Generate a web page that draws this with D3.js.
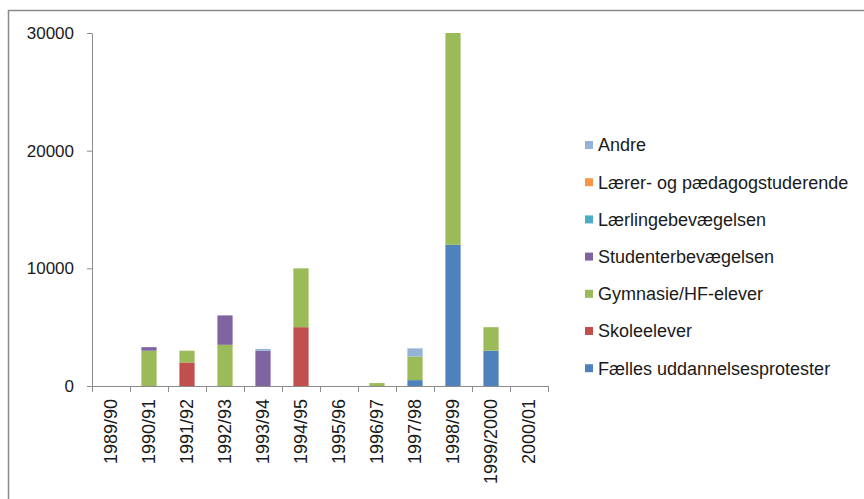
<!DOCTYPE html>
<html>
<head>
<meta charset="utf-8">
<script src="https://cdnjs.cloudflare.com/ajax/libs/d3/7.8.5/d3.min.js"></script>
<style>
  html, body { margin: 0; padding: 0; background: #fff; }
  svg { display: block; font-family: "Liberation Sans", Arial, sans-serif; }
  .axis path, .axis line { stroke: #8c8c8c; }
  .axis text { fill: #1a1a1a; font-size: 17px; }
  .axis text.cat { font-size: 18px; }
  .legend text { fill: #1a1a1a; font-size: 18px; }
</style>
</head>
<body>
<div class="chart"></div>
<script>
// School years
const categories = ["1989/90", "1990/91", "1991/92", "1992/93", "1993/94", "1994/95",
  "1995/96", "1996/97", "1997/98", "1998/99", "1999/2000", "2000/01"];

// Series, bottom of the stack first
const seriesNames = ["Fælles uddannelsesprotester", "Skoleelever", "Gymnasie/HF-elever",
  "Studenterbevægelsen", "Lærlingebevægelsen", "Lærer- og pædagogstuderende", "Andre"];

const faelles   = [0, 0, 0, 0, 0, 0, 0, 0, 500, 12000, 3000, 0];
const skole     = [0, 0, 2000, 0, 0, 5000, 0, 0, 0, 0, 0, 0];
const gymnasie  = [0, 3000, 1000, 3500, 0, 5000, 0, 250, 2000, 18000, 2000, 0];
const studenter = [0, 300, 0, 2500, 3000, 0, 0, 0, 0, 0, 0, 0];
const laerlinge = [0, 0, 0, 0, 0, 0, 0, 0, 0, 0, 0, 0];
const laerer    = [0, 0, 0, 0, 0, 0, 0, 0, 0, 0, 0, 0];
const andre     = [0, 0, 0, 0, 150, 0, 0, 0, 700, 0, 0, 0];

const yTicks = [0, 10000, 20000, 30000];

const seriesColors = ["#4f81bd", "#c0504d", "#9bbb59", "#8064a2", "#4bacc6", "#f79646", "#95b3d7"];

/**
 * Stacked bar chart
 */
class StackedChart
{
  constructor()
  {
    // Size of svg element
    this._width = 864;
    this._height = 499;

    // Plot area
    this._left = 92;
    this._right = 548;
    this._top = 33;
    this._bottom = 386;

    this._svg = null;
  }

  /**
   * Build table for d3.stack from the named arrays
   */
  _table()
  {
    const cols = [faelles, skole, gymnasie, studenter, laerlinge, laerer, andre];
    return categories.map((c, i) => {
      let row = { year: c };
      seriesNames.forEach((s, j) => { row[s] = cols[j][i]; });
      return row;
    });
  }

  render()
  {
    this._svg = d3.select(".chart")
      .append("svg")
      .attr("width", this._width)
      .attr("height", this._height);

    // Outer frame
    this._svg.append("rect")
      .attr("x", 8.5).attr("y", 10.5)
      .attr("width", 900).attr("height", 600)
      .attr("fill", "none")
      .attr("stroke", "#8a8a8a")
      .attr("stroke-width", 1.5);

    const x = d3.scaleBand()
      .domain(categories)
      .range([this._left, this._right])
      .paddingInner(0.6)
      .paddingOuter(0.3);

    const y = d3.scaleLinear()
      .domain([0, 30000])
      .range([this._bottom, this._top]);

    const stacked = d3.stack().keys(seriesNames)(this._table());

    // Bars
    this._svg.append("g")
      .selectAll("g")
      .data(stacked)
      .enter()
      .append("g")
      .attr("fill", (d, i) => seriesColors[i])
      .selectAll("rect")
      .data(d => d.filter(p => p[1] - p[0] > 0))
      .enter()
      .append("rect")
      .attr("x", d => x(d.data.year))
      .attr("width", x.bandwidth())
      .attr("y", d => y(d[1]))
      .attr("height", d => y(d[0]) - y(d[1]));

    // Y axis
    this._svg.append("g")
      .attr("class", "axis")
      .attr("transform", `translate(${this._left},0)`)
      .call(d3.axisLeft(y).tickValues(yTicks).tickFormat(d3.format("d")).tickSize(5).tickPadding(13).tickSizeOuter(0));

    // X axis, ticks between categories
    const step = x.step();
    const xg = this._svg.append("g")
      .attr("class", "axis")
      .attr("transform", `translate(0,${this._bottom})`);

    xg.append("path")
      .attr("d", `M${this._left},0.5H${this._right}`)
      .attr("fill", "none");

    xg.selectAll("line")
      .data(d3.range(categories.length + 1))
      .enter()
      .append("line")
      .attr("x1", i => Math.round(this._left + i * step) + 0.5)
      .attr("x2", i => Math.round(this._left + i * step) + 0.5)
      .attr("y1", 0)
      .attr("y2", 6);

    xg.selectAll("text")
      .data(categories)
      .enter()
      .append("text")
      .attr("class", "cat")
      .attr("transform", d => `translate(${x(d) + x.bandwidth() / 2},13) rotate(-90)`)
      .attr("text-anchor", "end")
      .attr("dy", "0.35em")
      .text(d => d);

    // Legend, top entry is last series
    const legend = this._svg.append("g")
      .attr("class", "legend")
      .selectAll("g")
      .data(seriesNames.slice().reverse())
      .enter()
      .append("g")
      .attr("transform", (d, i) => `translate(585,${145 + i * 37.2})`);

    legend.append("rect")
      .attr("x", 0).attr("y", -4)
      .attr("width", 8).attr("height", 8)
      .attr("fill", (d, i) => seriesColors[seriesNames.length - 1 - i]);

    legend.append("text")
      .attr("x", 13)
      .attr("dy", "0.35em")
      .text(d => d);
  }
}

new StackedChart().render();
</script>
</body>
</html>
